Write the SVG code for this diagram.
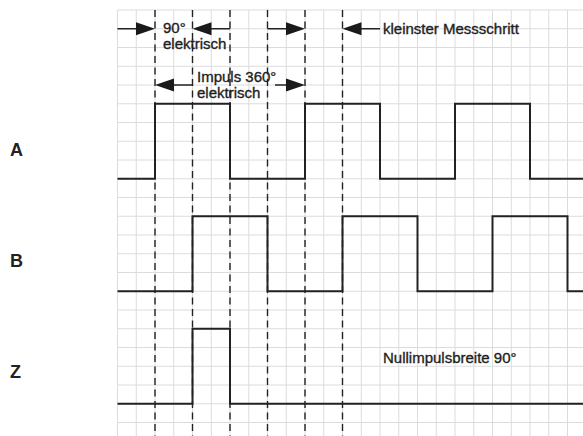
<svg xmlns="http://www.w3.org/2000/svg" width="583" height="436" viewBox="0 0 583 436">
<defs>
<style>
.grid{stroke:#dcdcdc;stroke-width:1;fill:none}
.guide{stroke:#222;stroke-width:1.4;stroke-dasharray:7 4.5;fill:none}
.sig{stroke:#222;stroke-width:2;fill:none}
.arr{stroke:#222;stroke-width:1.5;fill:none}
.head{fill:#1a1a1a}
.t{font-family:"Liberation Sans",Arial,sans-serif;font-size:15px;fill:#1e1e1e;stroke:#1e1e1e;stroke-width:0.35}
.lbl{font-family:"Liberation Sans",Arial,sans-serif;font-size:18px;font-weight:bold;fill:#222}
</style>
<path id="hr" d="M-19,-6.5 L0,0 L-19,6.5 z"/>
<path id="hl" d="M19,-6.5 L0,0 L19,6.5 z"/>
</defs>
<rect width="583" height="436" fill="#fff"/>
<g id="grid">
<path class="grid" d="M117.5 10H583M117.5 28.75H583M117.5 47.5H583M117.5 66.25H583M117.5 85H583M117.5 103.75H583M117.5 122.5H583M117.5 141.25H583M117.5 160H583M117.5 178.75H583M117.5 197.5H583M117.5 216.25H583M117.5 235H583M117.5 253.75H583M117.5 272.5H583M117.5 291.25H583M117.5 310H583M117.5 328.75H583M117.5 347.5H583M117.5 366.25H583M117.5 385H583M117.5 403.75H583M117.5 422.5H583"/>
<path class="grid" d="M117.5 10V436M136.25 10V436M155 10V436M173.75 10V436M192.5 10V436M211.25 10V436M230 10V436M248.75 10V436M267.5 10V436M286.25 10V436M305 10V436M323.75 10V436M342.5 10V436M361.25 10V436M380 10V436M398.75 10V436M417.5 10V436M436.25 10V436M455 10V436M473.75 10V436M492.5 10V436M511.25 10V436M530 10V436M548.75 10V436M567.5 10V436"/>
</g>
<g id="guides">
<path class="guide" d="M155 10V436M192.5 10V436M230 10V436M267.5 10V436M305 10V436M342.5 10V436"/>
</g>
<g id="signal-A">
<path class="sig" d="M117.5 178.75H155V103.75H230V178.75H305V103.75H380V178.75H455V103.75H530V178.75H583"/>
<text class="lbl" x="10" y="156">A</text>
</g>
<g id="signal-B">
<path class="sig" d="M117.5 291.25H192.5V216.25H267.5V291.25H342.5V216.25H417.5V291.25H492.5V216.25H567.5V291.25H583"/>
<text class="lbl" x="10" y="267">B</text>
</g>
<g id="signal-Z">
<path class="sig" d="M117.5 403.75H192.5V328.75H230V403.75H583"/>
<text class="lbl" x="10" y="378">Z</text>
</g>
<g id="connectors">
<path class="arr" d="M117.5 28.75H140"/><use href="#hr" class="head" x="155" y="28.75"/>
<path class="arr" d="M230 28.75H207"/><use href="#hl" class="head" x="192.5" y="28.75"/>
<path class="arr" d="M267.5 28.75H290"/><use href="#hr" class="head" x="305" y="28.75"/>
<path class="arr" d="M380 28.75H357"/><use href="#hl" class="head" x="342.5" y="28.75"/>
<path class="arr" d="M192.5 85H170"/><use href="#hl" class="head" x="155" y="85"/>
<path class="arr" d="M275 85H290"/><use href="#hr" class="head" x="305" y="85"/>
</g>
<g id="labels">
<text class="t" x="163" y="33">90°</text>
<text class="t" x="163" y="49">elektrisch</text>
<text class="t" x="197" y="81.5">Impuls 360°</text>
<text class="t" x="197" y="97.5">elektrisch</text>
<text class="t" x="383" y="34">kleinster Messschritt</text>
<text class="t" x="383" y="363">Nullimpulsbreite 90°</text>
</g>
</svg>
